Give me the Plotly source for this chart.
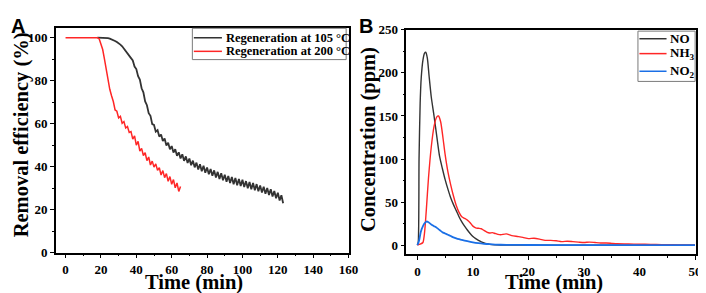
import plotly.graph_objects as go

# ---------------- Panel A data ----------------
a_x_105 = list(range(18, 124))
a_y_105 = [100, 100, 100, 100, 100, 99.9, 99.8, 99.6, 99.3, 98.9,
           98.5, 98, 97.5, 96.8, 96, 95, 94, 93, 92, 90.5,
           89.4, 86.6, 85.4, 82.1, 80.5, 76.5, 74.6, 70.4, 68.6, 64.9,
           63.7, 59.8, 59.4, 56.3, 57.0, 54.0, 55.0, 52.0, 53.1, 49.9,
           51.1, 48.1, 49.6, 46.6, 48.1, 45.1, 46.7, 43.8, 45.8, 42.7,
           44.8, 41.7, 43.8, 40.7, 42.8, 39.7, 41.9, 38.7, 41.1, 37.9,
           40.4, 37.2, 39.6, 36.5, 38.9, 35.8, 38.3, 35.0, 37.6, 34.3,
           37.0, 33.7, 36.3, 33.0, 35.7, 32.4, 35.2, 31.8, 34.8, 31.4,
           34.3, 31.0, 33.9, 30.5, 33.3, 30.0, 32.9, 29.5, 32.4, 29.0,
           31.9, 28.6, 31.3, 28.0, 30.7, 27.4, 30.1, 26.8, 29.5, 26.1,
           28.7, 25.3, 27.9, 24.3, 26.7, 23.0]

a_x_200 = [0, 5, 10, 15, 18] + list(range(19, 66))
a_y_200 = [100, 100, 100, 100, 100,
           99.5, 97, 94.5, 90, 85, 80, 76, 73, 70.3, 66.4,
           65.8, 62.7, 63.4, 60.2, 61.0, 58.0, 58.7, 55.9, 56.3, 52.8,
           54.3, 50.0, 51.8, 47.2, 48.5, 45.2, 46.5, 42.8, 44.5, 40.8,
           42.6, 39.8, 41.3, 38.3, 39.6, 36.1, 38.2, 34.9, 36.8, 33.2,
           35.4, 31.8, 34.0, 30.2, 32.4, 28.5, 30.8, 26.6]

# ---------------- Panel B data ----------------
b_x_no = [0, 0.15, 0.3, 0.5, 0.7, 1.0, 1.3, 1.5, 1.8, 2.1, 2.5, 3.0, 3.5, 4.0,
          4.5, 5, 5.5, 6, 6.5, 7, 7.5, 8, 8.5, 9, 9.5, 10, 10.5, 11, 11.5,
          12, 12.5, 13, 14, 15, 20, 30, 40, 50]
b_y_no = [0, 3, 100, 165, 195, 215, 223, 224, 217, 197, 172, 150, 126, 103,
          89, 76, 65, 55, 47, 40, 33, 27, 22, 17.5, 13.5, 10, 7.5, 5.5, 3.8,
          2.5, 1.5, 0.8, 0.2, 0, 0, 0, 0, 0]

b_x_nh3 = [0, 0.5, 1.0, 1.3, 1.6, 2.0, 2.5, 3.0, 3.5, 3.8, 4.2, 4.6, 5, 5.5,
           6, 6.5, 7, 7.5, 8, 8.5, 9, 9.5, 10, 10.5, 11, 11.5, 12, 12.5, 13,
           13.5, 14, 14.5, 15, 16, 17, 18, 19, 20, 21, 22, 23, 24, 25, 26,
           27, 28, 29, 30, 31, 32, 33, 34, 35, 36, 38, 40, 42, 44, 46, 48, 50]
b_y_nh3 = [0, 1, 3, 15, 40, 78, 114, 138, 149, 150, 143, 125, 105, 85,
           70, 57, 46, 38, 33, 31, 29, 26, 22, 20, 19.5, 19, 17, 15, 14,
           14.5, 13.5, 12.5, 12, 13, 11, 10, 9, 7.5, 8, 7, 5.5, 5.5, 5, 4,
           4.5, 4, 3.5, 3, 3.5, 3, 2.5, 2.5, 2, 1.5, 1.2, 1, 0.8, 0.5, 0.4, 0.2, 0]

b_x_no2 = [0, 0.3, 0.6, 1.0, 1.4, 1.7, 2.0, 2.5, 3, 3.5, 4, 4.5, 5, 5.5, 6,
           6.5, 7, 7.5, 8, 9, 10, 11, 12, 13, 14, 15, 17, 20, 30, 40, 50]
b_y_no2 = [0, 5, 15, 22, 26, 27.5, 26.5, 24, 22, 20, 17.5, 15, 13.5, 12, 10.5,
           9, 7.8, 6.8, 6, 4.5, 3.2, 2.2, 1.5, 1, 0.6, 0.4, 0.2, 0.1, 0, 0, 0]

a_ticks_x = [0, 20, 40, 60, 80, 100, 120, 140, 160]
a_ticks_y = [0, 20, 40, 60, 80, 100]
b_ticks_x = [0, 10, 20, 30, 40, 50]
b_ticks_y = [0, 50, 100, 150, 200, 250]

a_names = ["Regeneration at 105 °C", "Regeneration at 200 °C"]
b_names = ["NO", "NH<sub>3</sub>", "NO<sub>2</sub>"]

BLACK = "#333333"
RED = "#ff2626"
BLUE = "#1a6fe6"
SERIF = "Liberation Serif"
W, H = 706, 293

fig = go.Figure()
fig.add_trace(go.Scatter(x=a_x_105, y=a_y_105, mode="lines", name=a_names[0],
                         line=dict(color=BLACK, width=1.8), xaxis="x", yaxis="y"))
fig.add_trace(go.Scatter(x=a_x_200, y=a_y_200, mode="lines", name=a_names[1],
                         line=dict(color=RED, width=1.5), xaxis="x", yaxis="y"))
fig.add_trace(go.Scatter(x=b_x_no, y=b_y_no, mode="lines", name=b_names[0],
                         line=dict(color=BLACK, width=1.4, shape="spline", smoothing=0.6),
                         xaxis="x2", yaxis="y2"))
fig.add_trace(go.Scatter(x=b_x_nh3, y=b_y_nh3, mode="lines", name=b_names[1],
                         line=dict(color=RED, width=1.4, shape="spline", smoothing=0.6),
                         xaxis="x2", yaxis="y2"))
fig.add_trace(go.Scatter(x=b_x_no2, y=b_y_no2, mode="lines", name=b_names[2],
                         line=dict(color=BLUE, width=1.8, shape="spline", smoothing=0.6),
                         xaxis="x2", yaxis="y2"))

tickfont = dict(family=SERIF, size=13, color="black")


def axis(domain, rng, ticks, minor_dtick, anchor):
    return dict(domain=domain, range=rng, tickvals=ticks,
                ticktext=["<b>%d</b>" % t for t in ticks],
                ticks="outside", ticklen=4,
                tickwidth=1.3, tickcolor="black", showline=True, linecolor="black",
                linewidth=1.5, mirror=True, showgrid=False, zeroline=False,
                tickfont=tickfont,
                minor=dict(ticks="outside", ticklen=2, tickwidth=1, tickcolor="black",
                           dtick=minor_dtick, showgrid=False),
                anchor=anchor)


def px(x):
    return x / W


def py(y):
    return 1 - y / H


annotations = []
shapes = []


def text(t, x, y, size, xanchor="center", yanchor="middle", angle=0, family=SERIF):
    annotations.append(dict(text="<b>%s</b>" % t, x=px(x), y=py(y), xref="paper", yref="paper",
                            xanchor=xanchor, yanchor=yanchor, showarrow=False, textangle=angle,
                            font=dict(family=family, size=size, color="black")))


# axis titles
text("Removal efficiency (%)", 14, 126, 20.5, angle=-90)
text("Time (min)", 189, 281.5, 20.5)
text("Concentration (ppm)", 365, 131, 20.5, angle=-90)
text("Time (min)", 554, 281.5, 20.5)
# panel letters
text("A", 1, 12, 20, xanchor="left", family="Liberation Sans")
text("B", 354, 12, 20, xanchor="left", family="Liberation Sans")


# legends (drawn manually)
def legend_box(x0, y0, x1, y1, rows, names, colors, lx0, lx1, tx, size):
    shapes.append(dict(type="rect", xref="paper", yref="paper", x0=px(x0), x1=px(x1),
                       y0=py(y1), y1=py(y0), line=dict(color="#7a7a7a", width=1),
                       fillcolor="white", layer="above"))
    for ry, nm, c in zip(rows, names, colors):
        shapes.append(dict(type="line", xref="paper", yref="paper", x0=px(lx0), x1=px(lx1),
                           y0=py(ry), y1=py(ry), line=dict(color=c, width=1.5), layer="above"))
        text(nm, tx, ry, size, xanchor="left")


legend_box(187, 14, 343, 47, [24, 38.3], a_names, [BLACK, RED], 188.5, 217, 219, 12.5)
legend_box(639, 17, 697, 70, [25, 40.7, 59.3], b_names, [BLACK, RED, BLUE], 640.5, 668, 669, 13)

fig.update_layout(
    width=W, height=H, margin=dict(l=0, r=0, t=0, b=0),
    paper_bgcolor="white", plot_bgcolor="white", showlegend=False,
    xaxis=axis([48.5 / W, 345.5 / W], [-5.5, 160], a_ticks_x, 10, "y"),
    yaxis=axis([1 - 250.5 / H, 1 - 13.3 / H], [0, 104.7], a_ticks_y, 10, "x"),
    xaxis2=axis([404 / W, 698 / W], [-2, 50.2], b_ticks_x, 5, "y2"),
    yaxis2=axis([1 - 252.3 / H, 1 - 15.7 / H], [-10.8, 250], b_ticks_y, 25, "x2"),
    annotations=annotations, shapes=shapes,
)

fig.write_html("out.html")
